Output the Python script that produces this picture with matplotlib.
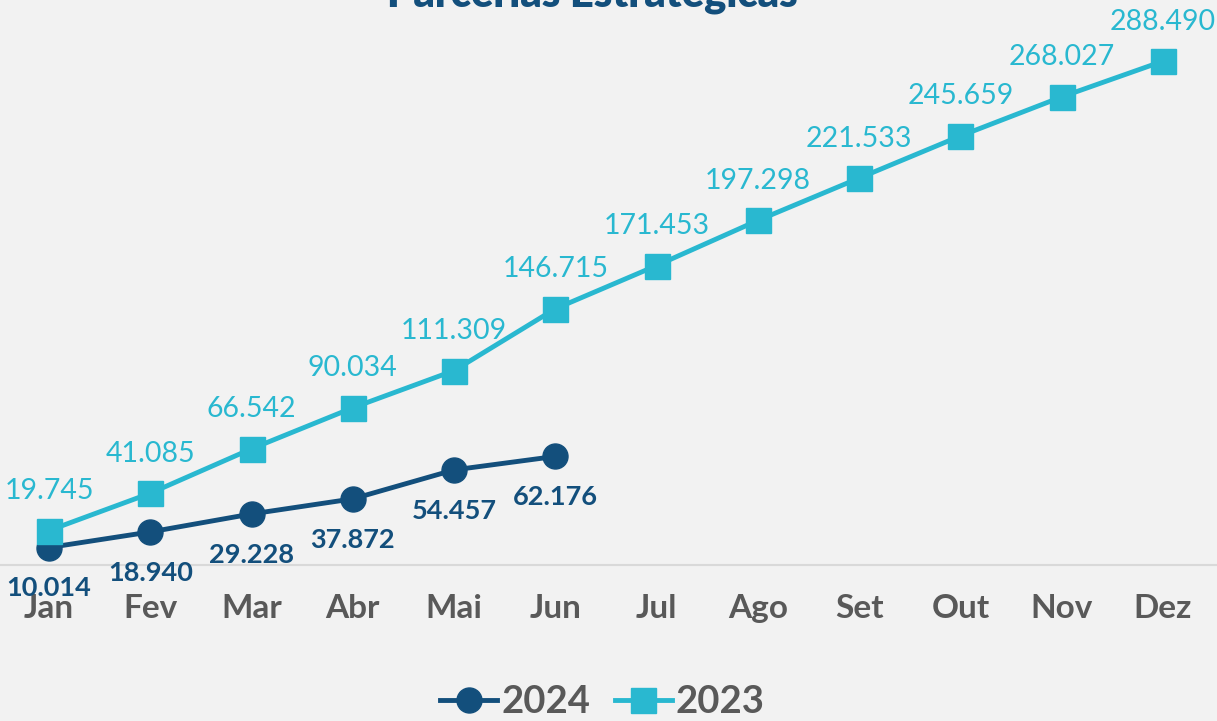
import matplotlib.pyplot as plt

months = ['Jan', 'Fev', 'Mar', 'Abr', 'Mai', 'Jun', 'Jul', 'Ago', 'Set', 'Out', 'Nov', 'Dez']
vals_2024 = [10014, 18940, 29228, 37872, 54457, 62176]
vals_2023 = [19745, 41085, 66542, 90034, 111309, 146715, 171453, 197298, 221533, 245659, 268027, 288490]

dark = '#134f7c'
light = '#29b8d0'
gray = '#595959'
bg = '#f2f2f2'

plt.rcParams['font.family'] = ['Lato', 'DejaVu Sans']


def fmt(v):
    return f'{v:,}'.replace(',', '.')


fig = plt.figure(figsize=(12.17, 7.21), dpi=100, facecolor=bg)
ax = fig.add_axes([0, 1 - 565 / 721, 1, 565 / 721])
ax.set_facecolor(bg)

x24 = list(range(len(vals_2024)))
x23 = list(range(len(vals_2023)))

ax.plot(x24, vals_2024, '-o', color=dark, lw=3.5, markersize=18, label='2024', zorder=3)
ax.plot(x23, vals_2023, '-s', color=light, lw=3.5, markersize=18, label='2023', zorder=4)

for x, v in zip(x23, vals_2023):
    ax.annotate(fmt(v), (x, v), xytext=(0, 28.5), textcoords='offset points',
                ha='center', va='center', color=light, fontsize=20.5)
for x, v in zip(x24, vals_2024):
    ax.annotate(fmt(v), (x, v), xytext=(0, -29.5), textcoords='offset points',
                ha='center', va='center', color=dark, fontsize=19.5, fontweight='bold')

ax.set_xlim(-0.484, 11.533)
ax.set_ylim(0, 323500)
ax.set_xticks(x23)
ax.set_xticklabels(months, fontsize=24, fontweight='bold', color=gray)
ax.tick_params(axis='x', length=0, pad=21)
ax.set_yticks([])
for s in ['top', 'left', 'right']:
    ax.spines[s].set_visible(False)
ax.spines['bottom'].set_color('#d9d9d9')
ax.spines['bottom'].set_linewidth(1.5)

fig.text(0.487, 1 - 6 / 721, 'Parcerias Estratégicas', ha='center', va='baseline',
         fontsize=30, fontweight='heavy', color=dark)

leg = fig.legend(loc='center', bbox_to_anchor=(0.495, 1 - 702 / 721), ncol=2, frameon=False,
                 handlelength=1.5, handletextpad=0.1, columnspacing=0.65,
                 prop={'size': 27.5, 'weight': 'bold'}, markerscale=1.0)
for t in leg.get_texts():
    t.set_color(gray)

fig.savefig('out.png', dpi=100, facecolor=bg)
